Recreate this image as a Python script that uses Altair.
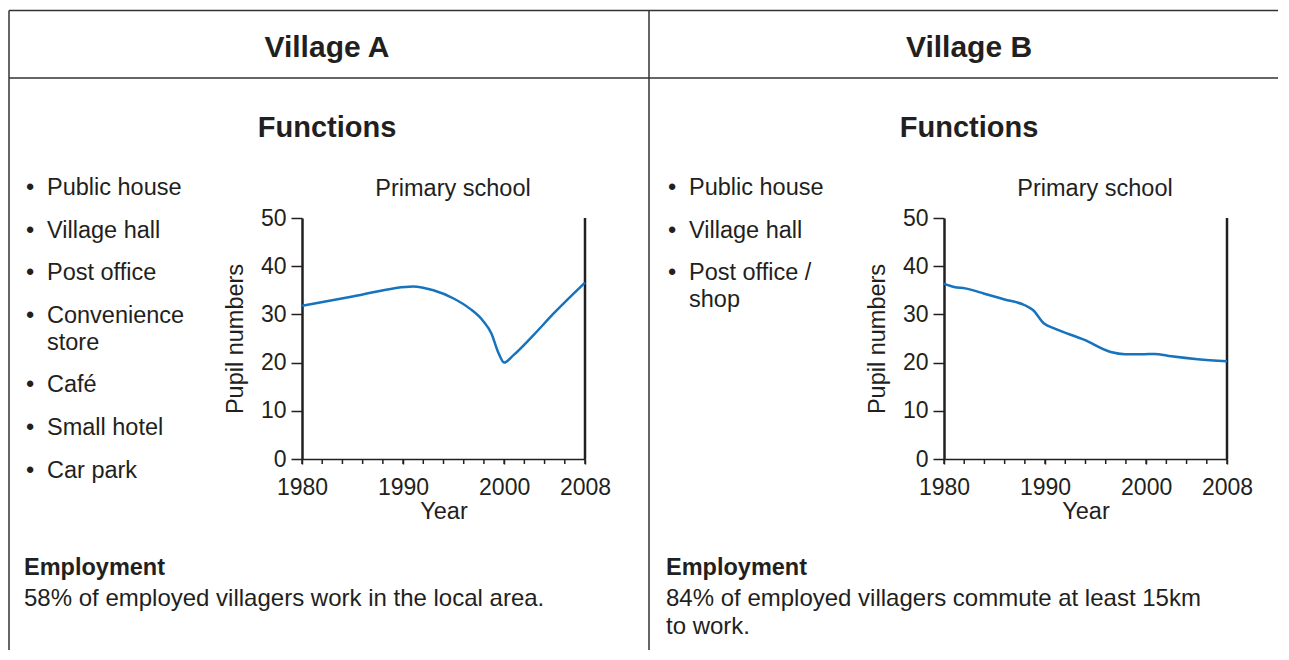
import altair as alt
import pandas as pd

# ---------------- data ----------------
years_a = [1980, 1985, 1991, 1993, 1995, 1996.6, 1997.9, 1998.75, 1999.4, 2000, 2000.9, 2002.9, 2004.9, 2008]
pupils_a = [31.8, 33.7, 35.8, 35.0, 33.3, 31.2, 28.7, 26.0, 22.2, 20.0, 21.5, 25.7, 30.2, 36.6]

years_b = [1980, 1981, 1982.1, 1984, 1986, 1988, 1988.8, 1989.9, 1990.9, 1993.9, 1996.5,
           1997.9, 1999.8, 2000.8, 2002.5, 2005.1, 2008]
pupils_b = [36.4, 35.7, 35.4, 34.3, 33.1, 31.9, 30.9, 28.1, 27.1, 24.7, 22.2,
            21.75, 21.75, 21.8, 21.3, 20.7, 20.3]

titles = ["Village A", "Village B"]
functions_a = [["Public house"], ["Village hall"], ["Post office"], ["Convenience", "store"],
               ["Café"], ["Small hotel"], ["Car park"]]
functions_b = [["Public house"], ["Village hall"], ["Post office /", "shop"]]
employment_a = ["58% of employed villagers work in the local area."]
employment_b = ["84% of employed villagers commute at least 15km", "to work."]

tick_years = list(range(1980, 2009, 2))
label_years = [1980, 1990, 2000, 2008]
y_ticks = [0, 10, 20, 30, 40, 50]
x_domain = [1980, 2008]
y_domain = [0, 50]

# ---------------- style ----------------
FONT = "Liberation Sans"
INK = "#231f20"
FRAME = "#333333"
BLUE = "#1673bd"
PLOT_W, PLOT_H = 283, 241
OY = 218            # page y of plot top
OX_A, OX_B = 302, 944
PANEL_SHIFT = OX_B - OX_A
BOTTOM = 650


def one():
    return pd.DataFrame({"k": [0]})


def txt(s, px, py, ox, size=23.5, bold=False, align="left"):
    return alt.Chart(pd.DataFrame({"t": [s]})).mark_text(
        font=FONT, fontSize=size, fontWeight="bold" if bold else "normal",
        color=INK, align=align, baseline="alphabetic"
    ).encode(x=alt.value(px - ox), y=alt.value(py - OY), text="t:N")


def hline(x1, x2, py, ox, width=1.5, opacity=1.0):
    return alt.Chart(one()).mark_rule(color=FRAME, strokeWidth=width, opacity=opacity).encode(
        x=alt.value(x1 - ox), x2=alt.value(x2 - ox), y=alt.value(py - OY))


def vline(px, y1, y2, ox, width=1.5, opacity=1.0):
    return alt.Chart(one()).mark_rule(color=FRAME, strokeWidth=width, opacity=opacity).encode(
        x=alt.value(px - ox), y=alt.value(y1 - OY), y2=alt.value(y2 - OY))


def x_encoding():
    return alt.X("year:Q",
                 scale=alt.Scale(domain=x_domain, nice=False, zero=False),
                 axis=alt.Axis(values=label_years, format="d", title="Year",
                               grid=False, tickSize=5, tickWidth=1.5, tickColor=INK,
                               domainWidth=1.5, domainColor=INK,
                               labelFont=FONT, labelFontSize=23, labelColor=INK,
                               labelPadding=12, labelFlush=False, labelOverlap=False,
                               titleFont=FONT, titleFontSize=23.5, titleFontWeight="normal",
                               titleColor=INK, titlePadding=0))


def y_encoding(field):
    return alt.Y(field,
                 scale=alt.Scale(domain=y_domain, nice=False),
                 axis=alt.Axis(values=y_ticks, title="Pupil numbers", grid=False,
                               tickSize=11, tickWidth=1.5, tickColor=INK,
                               domainWidth=2.5, domainColor=INK,
                               labelFont=FONT, labelFontSize=23, labelColor=INK,
                               labelPadding=5,
                               titleFont=FONT, titleFontSize=23.5, titleFontWeight="normal",
                               titleColor=INK, titlePadding=13))


def panel(title, years, pupils, functions, employment, ox, first):
    d = ox - OX_A  # horizontal shift of this panel in page coordinates
    layers = []
    # frame
    if first:
        layers.append(vline(8, 8, 100, ox, opacity=0))      # invisible bound anchor
        layers.append(hline(8, 100, 8, ox, opacity=0))      # invisible bound anchor
        layers.append(vline(9, 10.5, BOTTOM, ox))
        layers.append(vline(649, 10.5, BOTTOM, ox))
        layers.append(hline(9, 649, 10.5, ox))
        layers.append(hline(9, 649, 78, ox))
    else:
        layers.append(hline(649, 1278, 10.5, ox))
        layers.append(hline(649, 1278, 78, ox))

    layers.append(txt(title, 327 + d, 57, ox, size=30, bold=True, align="center"))
    layers.append(txt("Functions", 327 + d, 137, ox, size=29, bold=True, align="center"))
    layers.append(txt("Primary school", 453 + d, 196, ox, align="center"))

    y = 195.0
    for item in functions:
        layers.append(txt("•", 30 + d, y, ox, align="center"))
        for j, line in enumerate(item):
            layers.append(txt(line, 47 + d, y + 27 * j, ox))
        y += 42.6 + 27 * (len(item) - 1)

    layers.append(txt("Employment", 24 + d, 575, ox, bold=True))
    for j, line in enumerate(employment):
        layers.append(txt(line, 24 + d, 606 + 28 * j, ox, size=24))

    line = alt.Chart(pd.DataFrame({"year": years, "pupils": pupils})).mark_line(
        color=BLUE, strokeWidth=2.5, interpolate="monotone"
    ).encode(x=x_encoding(), y=y_encoding("pupils:Q"))

    minor = alt.Chart(pd.DataFrame({"year": tick_years})).mark_rule(
        color=INK, strokeWidth=1.5
    ).encode(x=x_encoding(), y=alt.value(PLOT_H), y2=alt.value(PLOT_H + 5))

    right = alt.Chart(pd.DataFrame({"year": [x_domain[1]], "lo": [y_domain[0]], "hi": [y_domain[1]]})).mark_rule(
        color=INK, strokeWidth=2.5
    ).encode(x=x_encoding(), y=y_encoding("lo:Q"), y2="hi:Q")

    layers.append(minor)
    layers.append(right)
    layers.append(line)
    return alt.layer(*layers).properties(
        width=PLOT_W, height=PLOT_H,
        view=alt.ViewBackground(stroke="transparent", strokeWidth=0)
    )


pa = panel(titles[0], years_a, pupils_a, functions_a, employment_a, OX_A, True)
pb = panel(titles[1], years_b, pupils_b, functions_b, employment_b, OX_B, False)

chart = alt.hconcat(pa, pb, spacing=PANEL_SHIFT - PLOT_W, bounds="flush").properties(
    padding=0
).configure_view(stroke="transparent", strokeWidth=0).configure_axis(grid=False).configure(background="white")

chart.save("out.html", embed_options={"renderer": "svg", "actions": False})
